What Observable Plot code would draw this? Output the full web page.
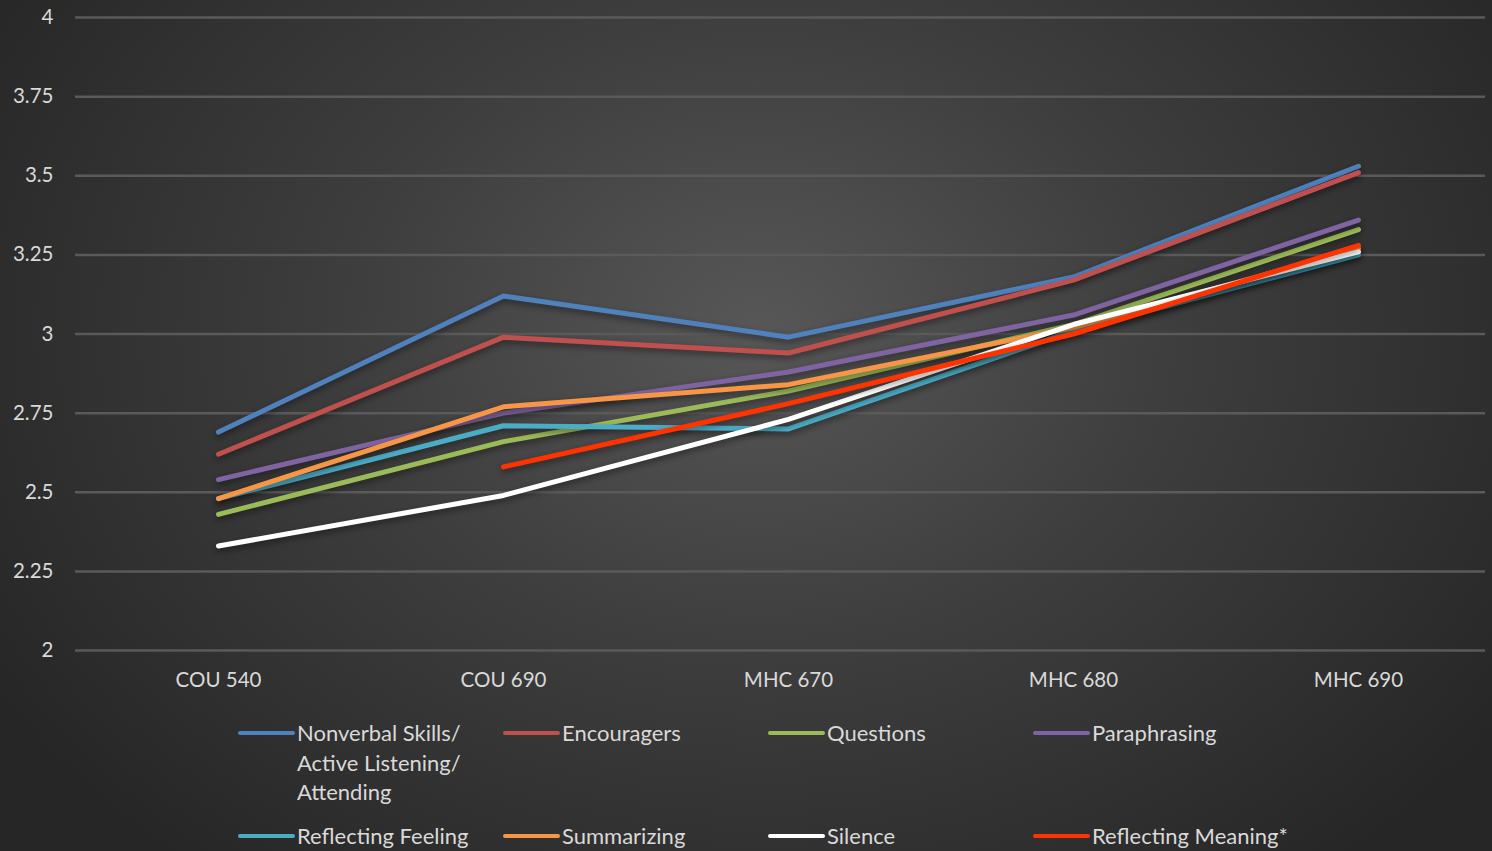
<!DOCTYPE html>
<html>
<head>
<meta charset="utf-8">
<script src="https://cdn.jsdelivr.net/npm/d3@7"></script>
<script src="https://cdn.jsdelivr.net/npm/@observablehq/plot@0.6"></script>
<style>
  html, body { margin: 0; padding: 0; }
  body {
    width: 1492px; height: 851px; overflow: hidden;
    background: radial-gradient(ellipse 900px 700px at 760px 330px, #575757 0%, #3e3e3e 45%, #262626 100%);
    font-family: Lato, "Open Sans", sans-serif;
  }
  #chart svg { display: block; background: transparent; }
  .skill-lines path { filter: drop-shadow(0 3px 3px rgba(0,0,0,0.45)); }
  #legend {
    display: grid;
    grid-template-columns: 265px 265px 265px 265px;
    padding-left: 238px;
    margin-top: 18px;
    row-gap: 14px;
    color: #d9d9d9;
    font-size: 22px;
    line-height: 29.5px;
  }
  .item { display: flex; align-items: flex-start; }
  .swatch { width: 57px; height: 4px; border-radius: 2px; margin-top: 13px; margin-right: 2px; flex: none; }
  .label { max-width: 195px; }
</style>
</head>
<body>
<div id="chart"></div>
<div id="legend"></div>
<script>
// Courses along the x axis
const courses = ["COU 540", "COU 690", "MHC 670", "MHC 680", "MHC 690"];

// Mean rating per skill for each course (null = not rated)
const nonverbal = [2.69, 3.12, 2.99, 3.18, 3.53];
const encouragers = [2.62, 2.99, 2.94, 3.17, 3.51];
const questions = [2.43, 2.66, 2.82, 3.03, 3.33];
const paraphrasing = [2.54, 2.75, 2.88, 3.06, 3.36];
const reflectingFeeling = [2.48, 2.71, 2.70, 3.01, 3.25];
const summarizing = [2.48, 2.77, 2.84, 3.02, 3.27];
const silence = [2.33, 2.49, 2.73, 3.03, 3.26];
const reflectingMeaning = [null, 2.58, 2.78, 3.00, 3.28];

const seriesNames = [
  "Nonverbal Skills/ Active Listening/ Attending",
  "Encouragers",
  "Questions",
  "Paraphrasing",
  "Reflecting Feeling",
  "Summarizing",
  "Silence",
  "Reflecting Meaning*"
];
const seriesValues = [nonverbal, encouragers, questions, paraphrasing, reflectingFeeling, summarizing, silence, reflectingMeaning];
const seriesColors = ["#4f81bd", "#c0504d", "#9bbb59", "#8064a2", "#4bacc6", "#f79646", "#ffffff", "#ff3300"];

const yTicks = [2, 2.25, 2.5, 2.75, 3, 3.25, 3.5, 3.75, 4];

// Tidy rows: one per (skill, course) with a value
const rows = seriesNames.flatMap((name, i) =>
  courses.map((course, j) => ({ series: name, course, value: seriesValues[i][j] }))
    .filter(d => d.value != null)
);

const chart = Plot.plot({
  width: 1492,
  height: 700,
  marginLeft: 75,
  marginRight: 7,
  marginTop: 17,
  marginBottom: 50,
  style: { background: "transparent", color: "#d9d9d9", fontFamily: "Lato, 'Open Sans', sans-serif" },
  x: { type: "point", domain: courses, range: [218, 1358], padding: 0, label: null },
  y: { domain: [2, 4], label: null },
  color: { domain: seriesNames, range: seriesColors },
  marks: [
    Plot.ruleY(yTicks, { stroke: "#5a5a5a", strokeWidth: 2.5 }),
    Plot.axisY({ ticks: yTicks, tickSize: 0, tickPadding: 22, fontSize: 20.5, fill: "#d9d9d9", label: null, tickFormat: d => String(d) }),
    Plot.axisX({ tickSize: 0, tickPadding: 22, fontSize: 20.5, fill: "#d9d9d9", label: null }),
    Plot.line(rows, {
      x: "course", y: "value", z: "series", stroke: "series",
      strokeWidth: 5, strokeLinecap: "round", strokeLinejoin: "round",
      className: "skill-lines"
    })
  ]
});
document.getElementById("chart").append(chart);

// Legend: four columns, two rows
const legend = document.getElementById("legend");
seriesNames.forEach((name, i) => {
  const item = document.createElement("div");
  item.className = "item";
  const sw = document.createElement("span");
  sw.className = "swatch";
  sw.style.background = seriesColors[i];
  const lab = document.createElement("span");
  lab.className = "label";
  if (i % 4 === 3) lab.style.maxWidth = "none";
  lab.textContent = name;
  item.append(sw, lab);
  legend.append(item);
});
</script>
</body>
</html>
